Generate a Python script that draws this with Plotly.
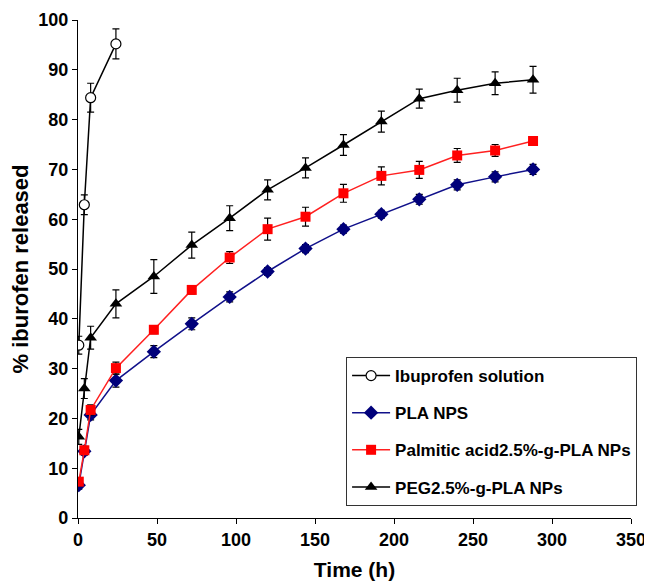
import plotly.graph_objects as go

time_sol = [0.5, 4, 8, 24]
sol_y = [34.7, 62.9, 84.4, 95.2]
sol_err = [1.8, 2.0, 2.9, 3.0]

time_np = [0.5, 4, 8, 24, 48, 72, 96, 120, 144, 168, 192, 216, 240, 264, 288]
pla_y = [6.6, 13.4, 20.7, 27.6, 33.4, 39.0, 44.4, 49.5, 54.1, 58.0, 61.0, 64.0, 66.9, 68.5, 70.0]
pla_err = [0.8, 0.8, 1.0, 1.3, 1.2, 1.2, 1.0, 0.8, 0.8, 0.8, 0.8, 1.0, 1.0, 1.0, 1.0]
palm_y = [7.3, 13.6, 21.7, 30.1, 37.8, 45.8, 52.3, 58.0, 60.5, 65.2, 68.7, 69.9, 72.8, 73.8, 75.7]
palm_err = [0.8, 0.8, 1.0, 1.2, 0.8, 0.8, 1.2, 2.2, 1.9, 1.8, 1.8, 1.7, 1.4, 1.2, 0.8]
peg_y = [16.3, 26.0, 36.2, 43.0, 48.5, 54.8, 60.2, 65.9, 70.3, 74.9, 79.6, 84.2, 85.9, 87.3, 88.0]
peg_err = [1.5, 2.0, 2.3, 2.8, 3.4, 2.6, 2.5, 2.0, 2.0, 2.1, 2.1, 1.9, 2.4, 2.3, 2.7]

names = ["Ibuprofen solution", "PLA NPS", "Palmitic acid2.5%-g-PLA NPs", "PEG2.5%-g-PLA NPs"]

FONT = "Liberation Sans, Arial, sans-serif"

def eb(arr):
    return dict(type="data", array=arr, color="black", thickness=1.2, width=3.5)

fig = go.Figure()
fig.add_trace(go.Scatter(
    x=time_sol, y=sol_y, error_y=eb(sol_err), mode="lines+markers", name=names[0],
    line=dict(color="black", width=1.5), legendgroup="a",
    marker=dict(symbol="circle", size=10, color="white", line=dict(color="black", width=1.2))))
fig.add_trace(go.Scatter(
    x=time_np, y=pla_y, error_y=eb(pla_err), mode="lines+markers", name=names[1],
    line=dict(color="#10108a", width=1.5), legendgroup="b",
    marker=dict(symbol="diamond", size=11, color="#00007a", line=dict(width=0))))
fig.add_trace(go.Scatter(
    x=time_np, y=palm_y, error_y=eb(palm_err), mode="lines+markers", name=names[2],
    line=dict(color="#ff2020", width=1.5), legendgroup="c",
    marker=dict(symbol="square", size=10, color="#ff0000", line=dict(width=0))))
fig.add_trace(go.Scatter(
    x=time_np, y=peg_y, error_y=eb(peg_err), mode="lines+markers", name=names[3],
    line=dict(color="black", width=1.5), legendgroup="d",
    marker=dict(symbol="triangle-up", size=11, color="black", line=dict(width=0))))

# page body has an 8px default margin, so the figure is sized to fit the window
fig.update_layout(
    width=644, height=573,
    margin=dict(l=70, r=21, t=12, b=63),
    plot_bgcolor="white", paper_bgcolor="white",
    font=dict(family=FONT, color="black"),
    showlegend=True,
    legend=dict(
        x=1.011, xanchor="right", y=0.024, yanchor="bottom",
        bgcolor="white", bordercolor="#333333", borderwidth=1,
        font=dict(family=FONT, size=17, color="black", weight="bold"),
        tracegroupgap=12, itemwidth=38,
    ),
    xaxis=dict(
        range=[0, 350], dtick=50, tick0=0, showgrid=False, zeroline=False, automargin=False,
        showline=True, linecolor="black", linewidth=1.2,
        ticks="outside", ticklen=5, tickcolor="black", tickwidth=1.2,
        tickfont=dict(family=FONT, size=18, weight="bold"),
        title=dict(text="Time (h)", font=dict(family=FONT, size=21, weight="bold"), standoff=14),
    ),
    yaxis=dict(
        range=[0, 100], dtick=10, tick0=0, showgrid=False, zeroline=False, automargin=False,
        showline=True, linecolor="black", linewidth=1.2,
        ticks="outside", ticklen=5, tickcolor="black", tickwidth=1.2,
        tickfont=dict(family=FONT, size=18, weight="bold"),
        title=dict(text="% iburofen released", font=dict(family=FONT, size=22, weight="bold"), standoff=8),
    ),
)

fig.write_html("out.html")
